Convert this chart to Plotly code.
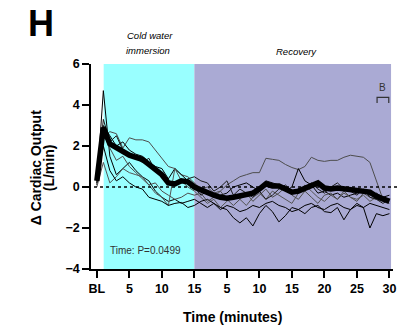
import plotly.graph_objects as go

# Time axis: baseline (BL), 15 min cold water immersion, 30 min recovery
minutes = list(range(46))
tick_vals = [0, 5, 10, 15, 20, 25, 30, 35, 40, 45]
tick_text = ["BL", "5", "10", "15", "5", "10", "15", "20", "25", "30"]
y_ticks = [-4, -2, 0, 2, 4, 6]

# Individual participants (change in cardiac output, L/min)
p1 = [0.1, 4.7, 1.5, 0.6, 0.9, 1.2, 0.8, 0.5, 0.3, -0.2, -0.5, -0.7, -0.6, -0.8, -0.7, -0.6,
      -0.8, -1.0, -0.8, -1.1, -0.9, -1.0, -1.2, -1.1, -0.9, -1.0, -0.8, -0.7, -0.9, -1.0,
      -1.2, -1.1, -0.9, -0.8, -1.0, -1.1, -0.9, -0.8, -1.0, -1.1, -0.9, -1.0, -0.8, -0.9, -1.0, -1.1]
p2 = [0.2, 2.4, 2.7, 2.6, 1.9, 2.4, 2.3, 2.3, 2.2, 1.8, 1.4, 1.0, 0.9, 0.6, 0.5, 0.2,
      -0.1, 0.0, -0.3, -0.2, 0.1, 0.3, 0.5, 0.6, 0.7, 0.7, 1.4, 1.35, 1.3, 1.1, 0.95,
      0.85, 1.0, 1.45, 1.3, 1.25, 1.3, 1.3, 1.45, 1.55, 1.5, 1.45, 1.2, 0.3, -0.6, -0.6]
p3 = [0.3, 3.0, 2.5, 2.0, 2.2, 1.8, 1.6, 1.5, 1.2, 1.0, 0.9, 0.4, 0.9, 0.6, 0.3, 0.0,
      -0.4, -0.2, -0.5, -0.4, -0.3, 0.0, 0.1, 0.2, 0.0, -0.2, 0.3, 0.2, 0.1, -0.2, 0.0,
      0.9, 0.3, 0.1, -0.3, -0.2, -0.4, -0.3, -0.5, -0.4, -0.3, -0.2, -0.4, -0.3, -0.5, -0.4]
p4 = [0.0, 1.2, 0.2, 0.5, 0.9, 0.7, 0.6, 0.5, 0.1, -0.3, -0.5, -0.9, 0.9, 0.3, 0.0, -0.2,
      -0.5, -0.8, -0.6, -1.0, -0.7, -0.4, -0.6, -0.9, -0.5, -0.3, -0.6, -0.2, -0.4, -0.6,
      -0.8, -0.3, 0.1, -0.2, -0.5, -0.7, -0.4, -0.6, -0.3, -0.5, -0.6, -0.4, -0.7, -0.5, -0.6, -0.8]
p5 = [0.2, 2.0, 0.8, 0.3, 0.5, 0.2, 0.0, -0.1, -0.5, -0.6, -0.7, -0.9, -0.8, -0.75, -1.0, -0.9,
      -0.7, -0.6, -0.8, -1.0, -1.1, -1.5, -1.75, -1.5, -1.9, -1.3, -0.9, -1.2, -1.7, -1.4,
      -1.0, -1.1, -1.3, -1.0, -0.9, -1.2, -1.25, -1.0, -1.6, -1.1, -0.8, -1.0, -2.0, -1.3, -1.4, -1.3]
p6 = [0.4, 2.6, 1.9, 1.3, 1.5, 1.0, 0.7, 0.4, 0.1, 0.2, -0.2, -0.4, -0.6, -0.5, -0.3, -0.4,
      -0.3, -0.7, -0.5, -0.2, -0.6, -0.9, -0.6, -0.3, -0.7, -0.4, -0.1, -0.5, -0.3, 0.0,
      -0.4, -0.6, -0.2, -0.5, -0.8, -0.4, -0.3, -0.6, -0.2, -0.5, -0.7, -0.3, -0.5, -0.6, -0.7, -0.6]
p7 = [0.3, 3.3, 2.2, 2.5, 1.8, 1.6, 1.4, 1.2, 1.4, 0.8, 0.5, 0.3, 0.1, 0.2, 0.4, 0.5,
      0.3, 0.2, -0.2, 0.0, 0.3, -0.4, -0.1, -0.3, -0.5, -0.2, -0.6, -0.4, -0.1, 0.1,
      -0.2, -0.3, 0.0, 0.2, -0.1, -0.3, 0.0, 0.2, -0.1, -0.2, -0.4, -0.1, -0.5, -0.6, -0.8, -0.6]

# Group mean
mean_co = [0.3, 2.9, 2.1, 1.9, 1.7, 1.55, 1.45, 1.35, 1.1, 0.85, 0.6, 0.2, 0.15, 0.3, 0.25, 0.0,
           -0.15, -0.3, -0.4, -0.5, -0.55, -0.5, -0.45, -0.4, -0.3, -0.1, 0.15, 0.05, 0.05, -0.1,
           -0.25, -0.2, -0.05, 0.1, 0.2, -0.05, -0.1, -0.05, -0.1, -0.1, -0.15, -0.2, -0.25, -0.45,
           -0.6, -0.7]

participants = [p1, p2, p3, p4, p5, p6, p7]
line_colors = ["#000000", "#4d4d4d", "#000000", "#555555", "#000000", "#4d4d4d", "#1a1a1a"]

FONT = "Liberation Sans, Arial, sans-serif"
CYAN = "#99FFFF"
PURPLE = "#AAAAD4"

fig = go.Figure()
for vals, col in zip(participants, line_colors):
    fig.add_trace(go.Scatter(x=minutes, y=vals, mode="lines",
                             line=dict(color=col, width=1), hoverinfo="skip"))
fig.add_trace(go.Scatter(x=minutes, y=mean_co, mode="lines",
                         line=dict(color="#000000", width=5.5)))

shapes = [
    # immersion and recovery periods
    dict(type="rect", xref="x", yref="y", x0=1.05, x1=15, y0=-4, y1=6,
         fillcolor=CYAN, line_width=0, layer="below"),
    dict(type="rect", xref="x", yref="y", x0=15, x1=45.25, y0=-4, y1=6,
         fillcolor=PURPLE, line_width=0, layer="below"),
    # zero reference
    dict(type="line", xref="paper", yref="paper", x0=0.01, x1=1.02, y0=0.4, y1=0.4,
         line=dict(color="#000000", width=1.5, dash="dot")),
    # bracket over the last two minutes
    dict(type="path", xref="x", yref="y",
         path="M 43.1 4.1 L 43.1 4.37 L 44.9 4.37 L 44.9 4.1",
         line=dict(color="#333333", width=1.2)),
]

annotations = [
    dict(text="<b>H</b>", x=-0.165, y=1.2, xref="paper", yref="paper",
         showarrow=False, font=dict(family=FONT, size=36, color="#000000"),
         xanchor="center", yanchor="middle"),
    dict(text="<i>Cold water</i>", x=122, y=35, xref="x", yref="paper",
         showarrow=False, font=dict(family=FONT, size=9.5, color="#000000")),
    dict(text="<i>Recovery</i>", x=0.68, y=1.06, xref="paper", yref="paper",
         showarrow=False, font=dict(family=FONT, size=9.5, color="#000000"),
         xanchor="center", yanchor="middle"),
    dict(text="Time: P=0.0499", x=1.7, y=-3.1, xref="x", yref="y",
         showarrow=False, font=dict(family=FONT, size=10, color="#333333"),
         xanchor="left", yanchor="middle"),
    dict(text="B", x=44.0, y=4.86, xref="x", yref="y",
         showarrow=False, font=dict(family=FONT, size=10, color="#333333"),
         xanchor="center", yanchor="middle"),
    dict(text="<b>Δ Cardiac Output</b>", x=-0.183, y=0.495, xref="paper", yref="paper",
         showarrow=False, textangle=-90, font=dict(family=FONT, size=14, color="#000000"),
         xanchor="center", yanchor="middle"),
    dict(text="<b>(L/min)</b>", x=-0.14, y=0.495, xref="paper", yref="paper",
         showarrow=False, textangle=-90, font=dict(family=FONT, size=14, color="#000000"),
         xanchor="center", yanchor="middle"),
    dict(text="<b>Time (minutes)</b>", x=0.47, y=-0.233, xref="paper", yref="paper",
         showarrow=False, font=dict(family=FONT, size=14, color="#000000"),
         xanchor="center", yanchor="middle"),
]
# header over the immersion band (two lines)
annotations[1] = dict(text="<i>Cold water</i>", x=0.195, y=1.14, xref="paper", yref="paper",
                      showarrow=False, font=dict(family=FONT, size=9.5, color="#000000"),
                      xanchor="center", yanchor="middle")
annotations.insert(2, dict(text="<i>immersion</i>", x=0.19, y=1.068, xref="paper", yref="paper",
                           showarrow=False, font=dict(family=FONT, size=9.5, color="#000000"),
                           xanchor="center", yanchor="middle"))

fig.update_layout(
    width=405, height=327,
    margin=dict(l=91, r=9, t=64, b=58),
    paper_bgcolor="#FFFFFF", plot_bgcolor="#FFFFFF",
    showlegend=False,
    shapes=shapes,
    annotations=annotations,
    font=dict(family=FONT, color="#000000"),
    xaxis=dict(range=[-0.9, 45.55], tickvals=tick_vals, ticktext=tick_text,
               showline=True, linecolor="#000000", linewidth=1.5,
               ticks="outside", ticklen=7, tickwidth=1.5, tickcolor="#000000",
               showgrid=False, zeroline=False,
               tickfont=dict(family=FONT, size=12.5, color="#000000", weight="bold")),
    yaxis=dict(range=[-4, 6], tickvals=y_ticks,
               showline=True, linecolor="#000000", linewidth=1.5,
               ticks="outside", ticklen=7, tickwidth=1.5, tickcolor="#000000",
               showgrid=False, zeroline=False,
               tickfont=dict(family=FONT, size=12.5, color="#000000", weight="bold")),
)

fig.write_html("out.html")
